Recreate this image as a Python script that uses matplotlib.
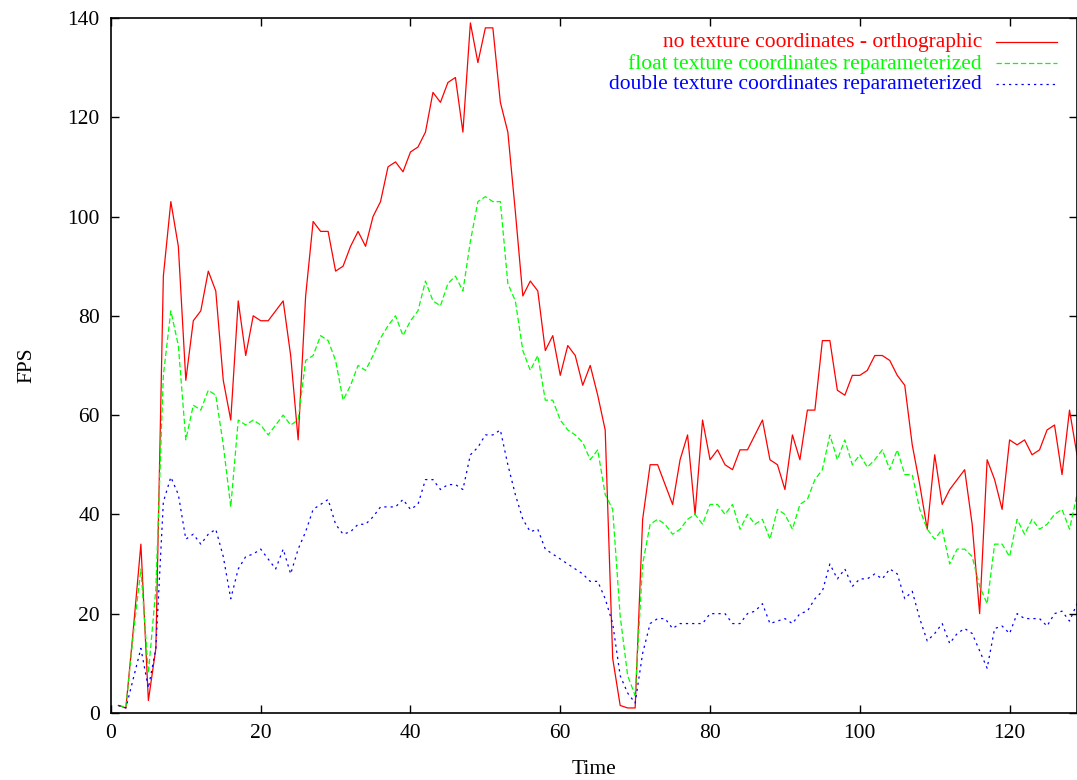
import numpy as np
import matplotlib
matplotlib.use("Agg")
import matplotlib.pyplot as plt
from matplotlib.lines import Line2D

# frame number (one sample per step)
time = np.arange(1, 130)

no_tex_ortho = [
    1.5, 1.0, 17, 34, 2.5, 13, 88, 103, 94, 67,
    79, 81, 89, 85, 67, 59, 83, 72, 80, 79,
    79, 81, 83, 72, 55, 84, 99, 97, 97, 89,
    90, 94, 97, 94, 100, 103, 110, 111, 109, 113,
    114, 117, 125, 123, 127, 128, 117, 139, 131, 138,
    138, 123, 117, 101, 84, 87, 85, 73, 76, 68,
    74, 72, 66, 70, 64, 57, 11, 1.5, 1, 1,
    39, 50, 50, 46, 42, 51, 56, 40, 59, 51,
    53, 50, 49, 53, 53, 56, 59, 51, 50, 45,
    56, 51, 61, 61, 75, 75, 65, 64, 68, 68,
    69, 72, 72, 71, 68, 66, 54, 46, 37, 52,
    42, 45, 47, 49, 38, 20, 51, 47, 41, 55,
    54, 55, 52, 53, 57, 58, 48, 61, 52,
]

float_tex = [
    1.5, 1.2, 16, 29, 8, 25, 68, 81, 74, 55,
    62, 61, 65, 64, 54, 41.5, 59, 58, 59, 58,
    56, 58, 60, 58, 59, 71, 72, 76, 75, 71,
    63, 66, 70, 69, 72, 75.5, 78, 80, 76, 79,
    81, 87, 83, 82, 86.5, 88, 85, 95, 103, 104,
    103, 103, 86.5, 83, 73, 69, 72, 63, 63, 59,
    57, 56, 54.5, 51, 53, 44, 41, 19.5, 7.5, 3.5,
    30, 38, 39, 38, 36, 37, 39, 40, 38, 42,
    42, 40, 42, 37, 40, 38, 39, 35, 41, 40,
    37, 42, 43, 47, 49, 56, 51, 55, 50, 52,
    49.5, 51, 53, 49, 53, 48, 48, 41, 37, 35,
    37, 30, 33, 33, 31.5, 25.5, 22, 34, 34, 31.5,
    39, 36, 39, 37, 38, 40, 41, 37, 44,
]

double_tex = [
    1.5, 1, 7, 13, 5, 13, 42.5, 47.5, 44, 35,
    36, 34, 36, 37, 31.5, 23, 29, 31.5, 32, 33,
    31, 29, 33, 28, 33, 36.5, 41, 42, 43, 38,
    36, 36.5, 38, 38, 39.5, 41.5, 41.5, 41.5, 43, 41,
    42, 47, 47, 45, 46, 46, 45, 52, 53.5, 56,
    56, 57, 50, 44, 39, 36.5, 37, 33, 32, 31,
    30, 29, 28, 26.5, 26.5, 23, 18, 7.5, 4, 2,
    12, 18, 19, 19, 17, 18, 18, 18, 18, 20,
    20, 20, 18, 18, 20, 20.5, 22, 18, 18.5, 19,
    18, 20, 20.5, 23, 24.5, 30, 27, 29, 25.5, 27,
    27, 28, 27, 29, 28, 23, 24.5, 19, 14.5, 16,
    18, 14, 16, 17, 16, 12.5, 9, 17, 17.5, 16,
    20, 19, 19, 19, 17.5, 20, 20.5, 18.5, 22,
]

labels = [
    "no texture coordinates - orthographic",
    "float texture coordinates reparameterized",
    "double texture coordinates reparameterized",
]
colors = ["#ff0000", "#00ff00", "#0000ff"]
dashes = [(None, None), (4.3, 2.2), (1.8, 3.2)]
series = [no_tex_ortho, float_tex, double_tex]

plt.rcParams["font.family"] = ["Liberation Serif", "DejaVu Serif"]
plt.rcParams["font.size"] = 15.5

fig = plt.figure(figsize=(10.77, 7.8), dpi=100)
ax = fig.add_axes([0.103, 0.086, 0.897, 0.891])

for vals, col, ds in zip(series, colors, dashes):
    line, = ax.plot(time, vals, color=col, lw=0.9)
    if ds[0] is not None:
        line.set_dashes(ds)

ax.set_xlim(0, 129)
ax.set_ylim(0, 140)
ax.set_xticks(np.arange(0, 121, 20))
ax.set_yticks(np.arange(0, 141, 20))
ax.tick_params(direction="in", length=6, width=1.0, top=True, right=True,
               labelsize=15.5, pad=8, colors="black")
for sp in ax.spines.values():
    sp.set_linewidth(1.2)
ax.set_xlabel("Time", fontsize=15.5, labelpad=12)
ax.set_ylabel("FPS", fontsize=15.5, labelpad=22)

# gnuplot style key: right-aligned labels followed by the line sample
y0 = 0.964
step = 0.0302
for i, (lab, col, ds) in enumerate(zip(labels, colors, dashes)):
    yy = y0 - i * step
    ax.text(0.9017, yy, lab, color=col, ha="right", va="center",
            transform=ax.transAxes, fontsize=15.5)
    sample = Line2D([0.916, 0.979], [yy + 0.002, yy + 0.002], color=col,
                    lw=0.9, transform=ax.transAxes)
    if ds[0] is not None:
        sample.set_dashes(ds)
    ax.add_line(sample)

fig.savefig("out.png", dpi=100)
